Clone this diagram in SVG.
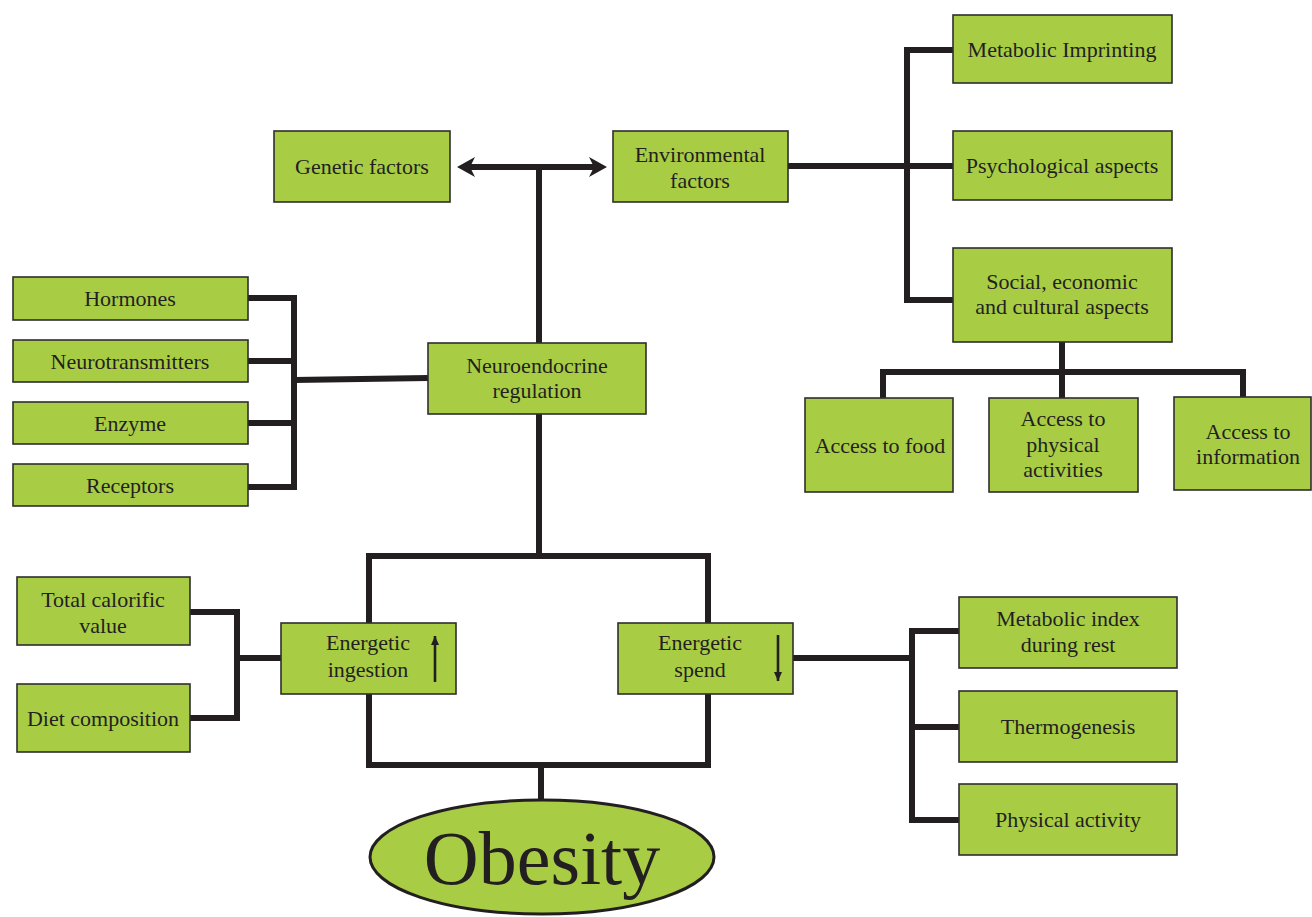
<svg xmlns="http://www.w3.org/2000/svg" width="1312" height="917" viewBox="0 0 1312 917">
<style>
.box{fill:#a8cd45;stroke:#2e2e2e;stroke-width:1.6}
.t{font-family:"Liberation Serif","Times New Roman",serif;font-size:22px;fill:#231f20;text-anchor:middle}
.c{fill:none;stroke:#231f20;stroke-width:6;stroke-linejoin:miter;stroke-linecap:butt}
.s{fill:none;stroke:#231f20;stroke-width:2.6}
.head{fill:#231f20}
</style>
<defs>
<marker id="smallArrow" markerUnits="userSpaceOnUse" markerWidth="10" markerHeight="10" refX="9" refY="5" orient="auto" viewBox="0 0 10 10">
<path d="M0,1 L9,5 L0,9 Z" fill="#231f20"/>
</marker>
</defs>
<rect width="1312" height="917" fill="#ffffff"/>
<g id="connectors">
<path class="c" d="M468,167 H596"/>
<path class="head" d="M457,167 L475,157 L470,167 L475,177 Z"/>
<path class="head" d="M607,167 L589,157 L594,167 L589,177 Z"/>
<path class="c" d="M539,167 V343"/>
<path class="c" d="M788,166 H953"/>
<path class="c" d="M953,50 H907 V300 H953"/>
<path class="c" d="M1062,342 V372"/>
<path class="c" d="M883,398 V372 H1243 V398"/>
<path class="c" d="M1062,372 V398"/>
<path class="c" d="M248,298 H294 V487 H248"/>
<path class="c" d="M248,361 H294"/>
<path class="c" d="M248,423 H294"/>
<path class="c" d="M294,380 L428,378"/>
<path class="c" d="M539,414 V556"/>
<path class="c" d="M369,623 V556 H708 V623"/>
<path class="c" d="M369,694 V765 H708 V694"/>
<path class="c" d="M541,765 V801"/>
<path class="c" d="M190,612 H237 V718 H190"/>
<path class="c" d="M237,658 H281"/>
<path class="c" d="M793,658 H912"/>
<path class="c" d="M959,631 H912 V820 H959"/>
<path class="c" d="M912,727 H959"/>
</g>
<g id="genetic"><rect class="box" x="274" y="131" width="176" height="71"/><text class="t" x="362" y="174">Genetic factors</text></g>
<g id="environmental"><rect class="box" x="613" y="131" width="175" height="71"/><text class="t" x="700" y="162">Environmental</text><text class="t" x="700" y="188">factors</text></g>
<g id="metabolic-imprinting"><rect class="box" x="953" y="15" width="219" height="68"/><text class="t" x="1062" y="57">Metabolic Imprinting</text></g>
<g id="psychological"><rect class="box" x="953" y="131" width="219" height="69"/><text class="t" x="1062" y="173">Psychological aspects</text></g>
<g id="social"><rect class="box" x="953" y="248" width="219" height="94"/><text class="t" x="1062" y="289">Social, economic</text><text class="t" x="1062" y="314">and cultural aspects</text></g>
<g id="access-food"><rect class="box" x="805" y="398" width="148" height="94"/><text class="t" x="880" y="453">Access to food</text></g>
<g id="access-physical"><rect class="box" x="989" y="398" width="149" height="94"/><text class="t" x="1063" y="426">Access to</text><text class="t" x="1063" y="452">physical</text><text class="t" x="1063" y="477">activities</text></g>
<g id="access-information"><rect class="box" x="1174" y="397" width="137" height="93"/><text class="t" x="1248" y="439">Access to</text><text class="t" x="1248" y="464">information</text></g>
<g id="hormones"><rect class="box" x="13" y="277" width="235" height="43"/><text class="t" x="130" y="306">Hormones</text></g>
<g id="neurotransmitters"><rect class="box" x="13" y="340" width="235" height="42"/><text class="t" x="130" y="369">Neurotransmitters</text></g>
<g id="enzyme"><rect class="box" x="13" y="402" width="235" height="42"/><text class="t" x="130" y="431">Enzyme</text></g>
<g id="receptors"><rect class="box" x="13" y="464" width="235" height="42"/><text class="t" x="130" y="493">Receptors</text></g>
<g id="neuroendocrine"><rect class="box" x="428" y="343" width="218" height="71"/><text class="t" x="537" y="373">Neuroendocrine</text><text class="t" x="537" y="398">regulation</text></g>
<g id="ingestion"><rect class="box" x="281" y="623" width="175" height="71"/><text class="t" x="368" y="650">Energetic</text><text class="t" x="368" y="677">ingestion</text><path class="s" d="M435,682 V636" marker-end="url(#smallArrow)"/></g>
<g id="spend"><rect class="box" x="618" y="623" width="175" height="71"/><text class="t" x="700" y="650">Energetic</text><text class="t" x="700" y="677">spend</text><path class="s" d="M778,635 V681" marker-end="url(#smallArrow)"/></g>
<g id="calorific"><rect class="box" x="17" y="577" width="173" height="68"/><text class="t" x="103" y="607">Total calorific</text><text class="t" x="103" y="633">value</text></g>
<g id="diet"><rect class="box" x="17" y="684" width="173" height="68"/><text class="t" x="103" y="726">Diet composition</text></g>
<g id="metabolic-index"><rect class="box" x="959" y="597" width="218" height="71"/><text class="t" x="1068" y="626">Metabolic index</text><text class="t" x="1068" y="652">during rest</text></g>
<g id="thermogenesis"><rect class="box" x="959" y="691" width="218" height="71"/><text class="t" x="1068" y="734">Thermogenesis</text></g>
<g id="physical-activity"><rect class="box" x="959" y="784" width="218" height="71"/><text class="t" x="1068" y="827">Physical activity</text></g>
<g id="obesity"><ellipse cx="542" cy="857" rx="172" ry="57" fill="#a8cd45" stroke="#231f20" stroke-width="3"/><text x="542" y="884" font-family="'Liberation Serif','Times New Roman',serif" font-size="76" fill="#231f20" text-anchor="middle">Obesity</text></g>
</svg>
